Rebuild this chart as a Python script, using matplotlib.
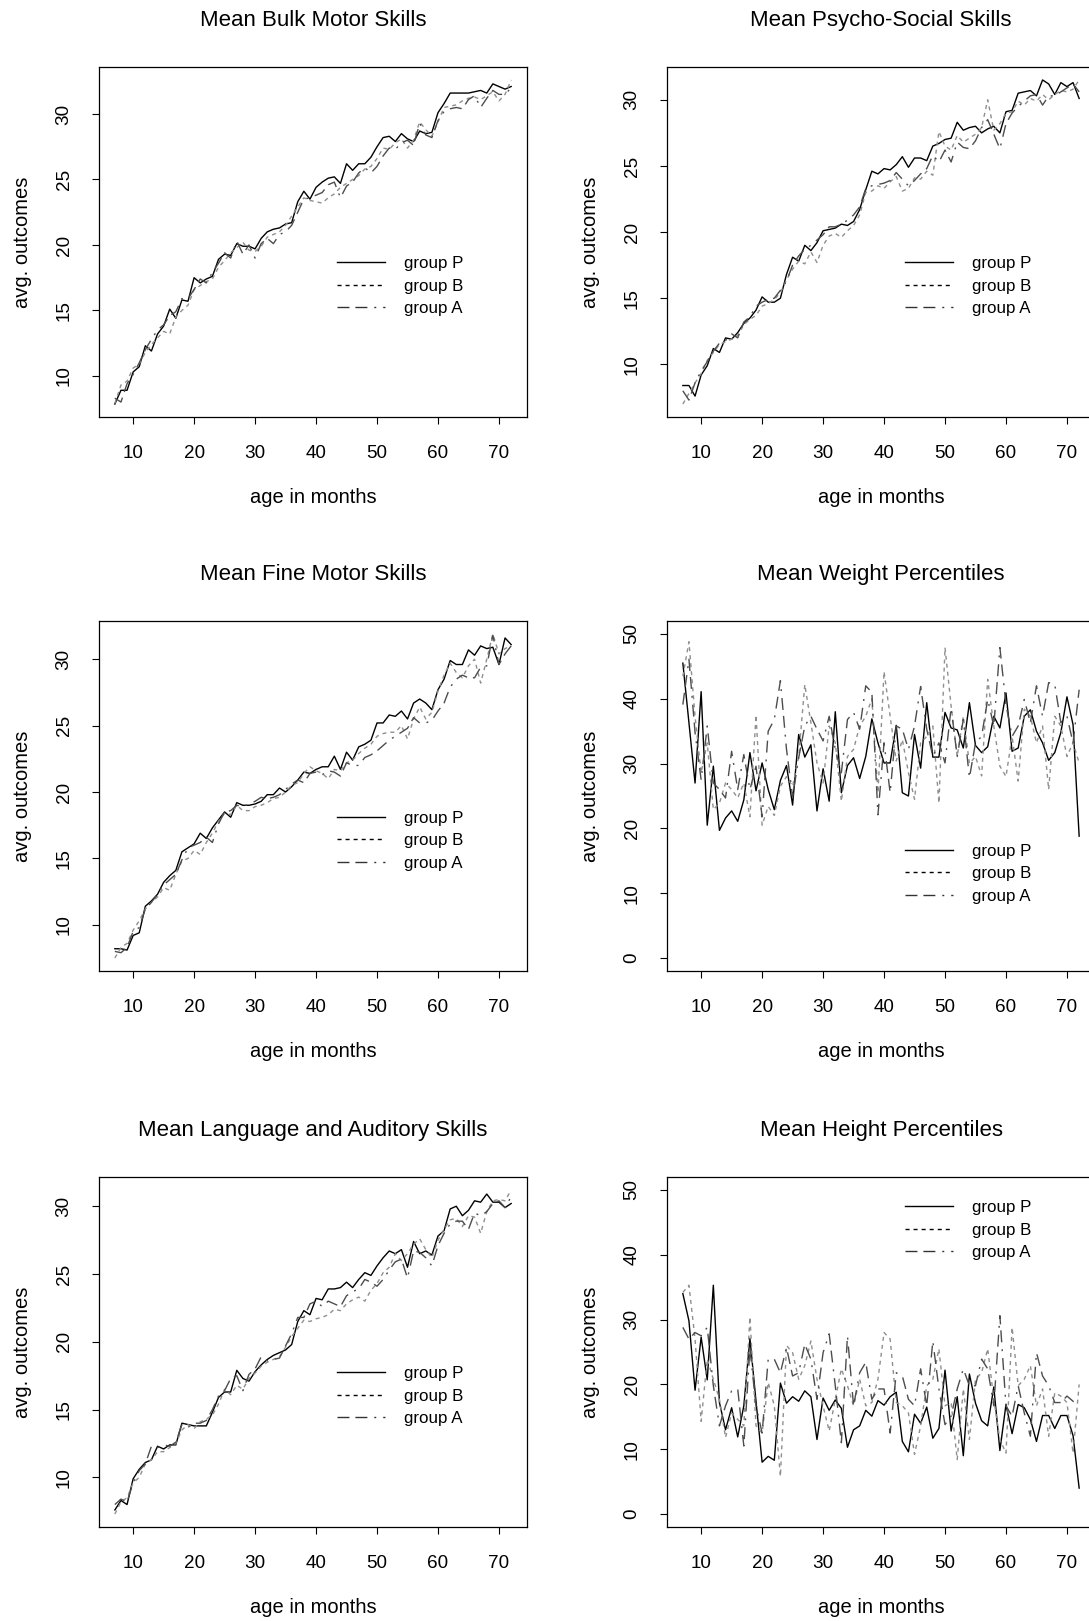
import matplotlib
matplotlib.use("Agg")
import matplotlib.pyplot as plt
import numpy as np

plt.rcParams['font.family'] = ['Liberation Sans', 'DejaVu Sans']
plt.rcParams['lines.scale_dashes'] = False

months = np.arange(7, 73)
group_names = ["group P", "group B", "group A"]

bulk_P = [7.85, 8.9, 8.9, 10.3, 10.7, 12.3, 11.9, 13.2, 13.8, 15.1, 14.4, 15.8, 15.7, 17.5, 17.1, 17.4, 17.6, 18.9, 19.3, 19.2,
          20.1, 19.9, 19.9, 19.7, 20.5, 21.0, 21.2, 21.3, 21.6, 21.7, 23.3, 24.1, 23.5, 24.4, 24.8, 25.1, 25.2, 24.7, 26.2, 25.7,
          26.2, 26.2, 26.7, 27.5, 28.2, 28.3, 27.9, 28.5, 28.1, 27.9, 28.7, 28.5, 28.6, 30.1, 30.8, 31.6, 31.6, 31.6, 31.6, 31.7,
          31.8, 31.6, 32.3, 32.1, 31.9, 32.1]
bulk_B = [7.9, 9.3, 9.6, 10.6, 10.9, 11.8, 12.4, 12.9, 13.4, 13.2, 14.5, 15.0, 15.4, 16.6, 16.9, 17.2, 17.4, 18.3, 18.8, 19.4,
          19.8, 20.2, 19.6, 19.5, 19.9, 20.6, 20.8, 21.0, 21.5, 22.2, 22.9, 23.6, 23.4, 23.3, 23.2, 23.6, 23.9, 24.4, 24.7, 25.0,
          25.3, 25.8, 26.0, 26.6, 27.4, 27.3, 27.8, 28.1, 27.4, 28.0, 29.4, 28.8, 28.3, 29.4, 30.5, 30.6, 30.7, 31.0, 31.2, 31.3,
          31.1, 31.4, 31.7, 31.0, 31.5, 32.6]
bulk_A = [8.3, 8.0, 9.4, 10.1, 11.0, 12.0, 12.8, 13.5, 13.9, 14.6, 14.9, 15.9, 15.9, 16.6, 17.4, 17.1, 17.9, 18.6, 19.4, 19.0,
          20.3, 19.3, 20.0, 19.0, 20.1, 20.5, 20.1, 20.8, 21.0, 21.5, 22.5, 23.5, 23.6, 23.8, 24.0, 24.6, 24.8, 23.6, 24.5, 24.8,
          25.5, 25.9, 25.5, 26.0, 26.8, 27.4, 27.3, 27.8, 28.0, 27.6, 29.3, 28.4, 28.2, 29.5, 30.2, 30.4, 30.5, 30.4, 31.1, 31.4,
          30.5, 31.2, 31.8, 31.5, 31.5, 32.0]

psycho_P = [8.4, 8.4, 7.6, 9.2, 9.9, 11.2, 10.9, 12.0, 11.9, 12.4, 13.1, 13.5, 14.1, 15.1, 14.7, 14.7, 15.0, 16.8, 18.1, 17.8,
            19.0, 18.6, 19.2, 20.1, 20.2, 20.3, 20.6, 20.5, 20.8, 21.7, 23.2, 24.6, 24.4, 24.8, 24.7, 25.1, 25.7, 24.9, 25.6, 25.6,
            25.4, 26.5, 26.7, 27.0, 27.1, 28.3, 27.7, 27.9, 28.0, 27.5, 27.8, 28.0, 27.5, 29.1, 29.2, 30.5, 30.6, 30.7, 30.3, 31.5,
            31.2, 30.4, 31.3, 31.0, 31.3, 30.1]
psycho_B = [7.0, 7.8, 8.6, 9.3, 10.3, 10.9, 11.5, 11.7, 11.9, 12.2, 13.0, 13.4, 13.7, 14.4, 14.6, 14.9, 15.4, 16.4, 17.2, 17.8,
            17.6, 18.5, 17.7, 19.0, 19.7, 19.9, 19.6, 20.1, 20.5, 21.3, 23.0, 23.1, 23.5, 23.3, 23.8, 24.2, 23.1, 23.3, 24.1, 24.0,
            24.6, 24.3, 27.6, 26.5, 26.2, 27.3, 26.8, 27.1, 27.4, 27.9, 30.0, 27.7, 28.2, 29.0, 29.1, 29.9, 29.6, 30.1, 29.9, 30.4,
            30.0, 30.4, 30.7, 30.6, 30.8, 31.5]
psycho_A = [8.0, 7.3, 8.6, 9.5, 10.2, 11.0, 11.6, 11.8, 12.3, 12.0, 13.2, 13.6, 14.4, 14.7, 14.9, 15.0, 15.6, 16.3, 17.5, 18.2,
            18.7, 19.0, 19.4, 19.8, 20.4, 20.4, 20.6, 20.9, 21.3, 21.9, 23.3, 23.5, 23.6, 23.7, 23.9, 24.5, 24.0, 23.5, 23.9, 24.4,
            24.8, 25.8, 25.3, 26.2, 25.3, 26.8, 26.4, 26.3, 26.9, 27.9, 28.5, 27.4, 26.3, 28.2, 29.0, 29.5, 29.9, 30.3, 30.4, 29.6,
            30.3, 30.3, 30.6, 30.9, 31.2, 30.6]

fine_P = [8.2, 8.2, 8.1, 9.2, 9.4, 11.4, 11.8, 12.3, 13.2, 13.7, 14.1, 15.5, 15.8, 16.1, 16.9, 16.5, 17.3, 17.9, 18.5, 18.1,
          19.2, 19.0, 19.0, 19.1, 19.3, 19.8, 19.8, 20.3, 20.0, 20.4, 20.9, 21.5, 21.4, 21.7, 21.9, 21.9, 22.7, 21.7, 23.0, 22.4,
          23.4, 23.6, 23.9, 25.2, 25.2, 25.8, 25.7, 26.1, 25.5, 26.7, 27.0, 26.7, 26.2, 27.7, 28.5, 29.9, 29.6, 29.6, 30.7, 30.3,
          31.0, 30.8, 30.9, 29.6, 31.6, 31.1]
fine_B = [7.5, 8.3, 8.6, 9.6, 10.3, 11.2, 11.7, 12.1, 12.8, 12.6, 13.8, 14.8, 15.0, 15.6, 15.3, 16.2, 16.9, 17.8, 18.4, 18.3,
          19.0, 18.6, 18.6, 18.9, 19.0, 19.2, 19.5, 19.6, 20.0, 20.5, 20.7, 21.4, 21.9, 21.6, 21.4, 21.0, 21.7, 21.6, 22.2, 22.4,
          22.9, 23.3, 23.6, 24.2, 24.4, 24.5, 24.5, 25.0, 24.0, 25.5, 26.4, 25.5, 26.0, 27.6, 28.8, 29.7, 29.0, 28.6, 29.5, 30.0,
          28.2, 30.0, 31.9, 30.4, 30.8, 31.0]
fine_A = [8.0, 7.9, 8.3, 9.5, 9.8, 11.2, 11.7, 12.3, 13.0, 13.4, 13.8, 14.9, 15.8, 16.0, 16.2, 16.6, 16.2, 17.6, 18.5, 18.6,
          19.0, 18.9, 19.1, 19.3, 19.6, 19.5, 19.6, 19.8, 20.2, 20.6, 20.9, 20.7, 21.4, 21.5, 21.3, 21.6, 21.5, 21.2, 22.2, 22.0,
          22.0, 22.6, 22.8, 23.1, 23.5, 23.9, 24.2, 24.5, 24.8, 25.6, 25.2, 25.2, 25.4, 26.1, 26.7, 27.9, 28.5, 28.8, 28.6, 28.6,
          29.4, 29.5, 31.8, 29.6, 30.4, 31.0]

weight_P = [45.5, 36.3, 27.0, 41.1, 20.5, 29.6, 19.7, 21.6, 22.7, 21.1, 24.4, 31.7, 25.8, 30.1, 26.0, 22.9, 27.4, 29.7, 23.6, 34.5,
            31.0, 32.9, 22.7, 29.2, 24.2, 38.0, 25.5, 29.7, 30.9, 27.7, 31.1, 36.9, 33.2, 30.1, 30.1, 35.9, 25.5, 25.0, 34.5, 29.3,
            39.4, 31.0, 31.0, 37.9, 35.5, 35.2, 32.4, 39.4, 32.8, 31.7, 32.6, 37.3, 35.5, 40.9, 31.9, 32.4, 37.3, 38.3, 35.0, 33.2,
            30.5, 31.7, 34.8, 40.3, 36.0, 18.8]
weight_B = [43.5, 48.8, 37.3, 28.6, 33.2, 22.9, 23.9, 27.0, 26.0, 24.7, 27.0, 21.8, 37.5, 20.5, 23.4, 22.0, 26.5, 28.0, 26.5, 31.1,
            42.2, 36.3, 30.1, 27.0, 35.8, 33.2, 24.2, 31.1, 32.2, 35.8, 37.3, 40.0, 25.5, 44.2, 37.3, 30.4, 33.7, 28.6, 24.5, 33.2,
            34.2, 35.8, 23.9, 47.9, 38.9, 31.1, 37.3, 30.0, 31.1, 28.1, 43.0, 35.8, 29.6, 28.0, 34.2, 27.3, 38.4, 37.3, 33.2, 35.8,
            26.0, 37.3, 35.8, 31.1, 33.2, 30.1]
weight_A = [39.1, 46.1, 34.8, 27.5, 35.8, 27.0, 26.0, 24.7, 31.9, 26.0, 31.4, 26.0, 29.6, 21.8, 35.0, 36.8, 42.8, 32.2, 24.9, 30.9,
            35.8, 37.3, 35.3, 33.5, 37.3, 32.2, 28.6, 36.8, 37.9, 35.3, 42.0, 41.0, 22.1, 33.2, 25.5, 35.8, 35.3, 32.2, 35.8, 41.9,
            35.3, 31.1, 33.2, 30.1, 38.6, 31.1, 36.8, 27.8, 33.2, 34.2, 39.9, 35.8, 47.9, 39.1, 34.2, 35.8, 39.9, 36.3, 42.0, 37.3,
            42.5, 42.2, 36.3, 37.3, 33.2, 41.4]

lang_P = [7.6, 8.3, 8.0, 9.9, 10.6, 11.1, 11.3, 12.3, 12.1, 12.4, 12.4, 14.0, 13.9, 13.8, 13.8, 13.8, 14.8, 15.9, 16.3, 16.3,
          17.9, 17.3, 17.1, 17.8, 18.3, 18.7, 19.0, 19.2, 19.4, 19.8, 21.5, 22.3, 22.0, 23.2, 23.1, 23.9, 23.9, 24.0, 24.4, 24.0,
          24.6, 25.1, 24.9, 25.6, 26.2, 26.7, 26.5, 26.8, 25.5, 27.4, 26.5, 26.7, 26.4, 27.8, 28.2, 29.8, 30.0, 29.3, 29.7, 30.4,
          30.3, 30.9, 30.3, 30.3, 29.9, 30.2]
lang_B = [7.3, 8.2, 8.5, 9.6, 10.0, 11.0, 11.3, 11.9, 11.9, 12.2, 12.5, 13.5, 13.9, 13.6, 14.1, 14.3, 14.6, 15.4, 16.5, 16.1,
          16.8, 16.5, 17.3, 17.7, 18.2, 18.5, 18.7, 18.9, 19.6, 20.4, 21.0, 21.6, 21.5, 21.7, 21.8, 22.0, 22.4, 22.3, 22.8, 23.1,
          23.3, 23.0, 23.8, 24.3, 25.1, 25.5, 26.5, 26.0, 26.5, 27.2, 27.6, 26.8, 26.2, 27.5, 28.3, 29.0, 29.1, 28.5, 29.3, 29.2,
          28.0, 29.6, 30.4, 30.5, 30.4, 31.2]
lang_A = [8.0, 8.4, 8.2, 9.6, 10.5, 11.0, 12.3, 12.2, 12.4, 12.3, 12.6, 13.9, 13.7, 14.0, 14.0, 14.2, 15.0, 16.0, 16.4, 17.3,
          17.5, 16.4, 17.6, 18.0, 18.9, 18.6, 18.7, 18.8, 19.7, 20.6, 21.8, 21.8, 22.8, 23.0, 22.6, 23.0, 22.8, 22.6, 23.4, 23.7,
          23.9, 24.6, 24.4, 24.1, 24.6, 25.3, 25.9, 26.1, 24.7, 26.7, 26.6, 26.2, 25.6, 27.1, 28.0, 28.7, 28.9, 28.9, 28.3, 29.5,
          29.3, 29.6, 30.2, 30.4, 29.9, 30.7]

height_P = [34.0, 29.8, 19.1, 27.3, 20.7, 35.3, 17.2, 13.0, 16.4, 11.9, 16.7, 27.1, 17.4, 8.0, 8.9, 8.3, 20.2, 17.1, 18.1, 17.4,
            19.0, 18.1, 11.5, 17.9, 16.0, 17.6, 16.3, 10.3, 13.0, 13.6, 16.0, 15.1, 17.5, 16.8, 18.1, 18.8, 11.2, 9.6, 15.4, 14.0,
            16.5, 11.7, 13.2, 22.2, 12.8, 18.1, 9.0, 21.6, 17.1, 14.4, 13.6, 19.6, 9.8, 16.9, 12.4, 16.9, 16.4, 14.6, 11.2, 15.2,
            15.2, 13.2, 15.2, 15.2, 12.1, 4.0]
height_B = [34.2, 35.3, 27.0, 14.3, 23.9, 20.8, 17.7, 11.8, 15.6, 14.6, 13.6, 30.4, 13.6, 12.5, 20.3, 16.7, 5.8, 26.0, 24.9, 20.8,
            22.9, 26.7, 20.8, 16.7, 12.8, 17.7, 22.4, 19.8, 16.7, 20.8, 16.7, 17.2, 20.8, 28.0, 27.0, 17.2, 16.7, 15.6, 9.2, 13.6,
            19.8, 20.8, 25.5, 16.7, 17.2, 8.4, 19.3, 11.5, 20.8, 21.8, 25.5, 17.7, 11.5, 9.4, 28.8, 19.8, 20.8, 22.9, 16.7, 19.3,
            12.0, 18.7, 18.2, 17.2, 9.4, 20.0]
height_A = [28.8, 27.0, 28.0, 27.5, 28.8, 19.8, 13.6, 16.7, 19.0, 19.3, 10.5, 25.5, 16.7, 12.5, 23.9, 23.9, 21.8, 25.7, 21.3, 21.8,
            26.2, 23.9, 17.7, 24.9, 27.8, 19.8, 11.0, 27.5, 16.7, 21.8, 23.4, 17.7, 19.3, 19.3, 12.5, 21.8, 21.3, 17.7, 16.7, 22.4,
            16.7, 26.7, 19.3, 13.8, 15.1, 19.3, 22.4, 19.8, 19.8, 23.9, 22.4, 16.7, 30.6, 16.7, 15.1, 19.8, 15.6, 12.0, 24.9, 21.3,
            19.8, 17.2, 17.2, 18.2, 17.4, 16.7]

titles = ["Mean Bulk Motor Skills", "Mean Psycho-Social Skills",
          "Mean Fine Motor Skills", "Mean Weight Percentiles",
          "Mean Language and Auditory Skills", "Mean Height Percentiles"]
series = [(bulk_P, bulk_B, bulk_A), (psycho_P, psycho_B, psycho_A),
          (fine_P, fine_B, fine_A), (weight_P, weight_B, weight_A),
          (lang_P, lang_B, lang_A), (height_P, height_B, height_A)]
fixed_ylim = [None, None, None, (0, 50), None, (0, 50)]
skill_ticks = [10, 15, 20, 25, 30]
pct_ticks = [0, 10, 20, 30, 40, 50]
ytick_sets = [skill_ticks, skill_ticks, skill_ticks, pct_ticks, skill_ticks, pct_ticks]
xticks = [10, 20, 30, 40, 50, 60, 70]
# legend middle-row position, axes fraction
legend_y = [0.374, 0.374, 0.372, 0.278, 0.374, 0.848]

W, H = 1089, 1621
fig = plt.figure(figsize=(W / 100, H / 100), dpi=100)

col_left = [99, 667]
row_top = [67, 621, 1177]
box_w, box_h = 428, 350

line_styles = [
    dict(color="black", linestyle="-"),
    dict(color="#8f8f8f", linestyle=(0, (2.9, 2.9))),
    dict(color="#4d4d4d", linestyle=(0, (8.6, 4.3, 8.6, 5.0, 1.4, 5.0))),
]
legend_colors = ["black", "black", "#333333"]

for i in range(6):
    r, c = divmod(i, 2)
    left, top = col_left[c], row_top[r]
    ax = fig.add_axes([left / W, 1 - (top + box_h) / H, box_w / W, box_h / H])
    handles = []
    for vals, st in zip(series[i], line_styles):
        ax.plot(months, vals, lw=1.0, **st)
    for name, st, lc in zip(group_names, line_styles, legend_colors):
        h, = ax.plot([], [], lw=1.0, color=lc, linestyle=st["linestyle"], label=name)
        handles.append(h)

    x0, x1 = months.min(), months.max()
    xpad = 0.04 * (x1 - x0)
    ax.set_xlim(x0 - xpad, x1 + xpad)
    if fixed_ylim[i] is None:
        allv = np.concatenate([np.asarray(s) for s in series[i]])
        y0, y1 = allv.min(), allv.max()
    else:
        y0, y1 = fixed_ylim[i]
    ypad = 0.04 * (y1 - y0)
    ax.set_ylim(y0 - ypad, y1 + ypad)

    ax.set_xticks(xticks)
    ax.set_yticks(ytick_sets[i])
    ax.tick_params(direction="out", length=5, width=0.8, labelsize=13.6)
    ax.tick_params(axis="x", pad=15)
    ax.tick_params(axis="y", pad=14)
    for lab in ax.get_yticklabels():
        lab.set_rotation(90)
        lab.set_va("center")
    for sp in ax.spines.values():
        sp.set_linewidth(0.9)

    ax.set_title(titles[i], fontsize=16, pad=29.5)
    ax.set_xlabel("age in months", fontsize=14.5, labelpad=19)
    ax.set_ylabel("avg. outcomes", fontsize=14.5, labelpad=17)

    ax.legend(handles=handles, loc="center left", bbox_to_anchor=(0.557, legend_y[i]),
              frameon=False, fontsize=12.2, handlelength=2.78, handletextpad=1.18,
              labelspacing=0.44, borderpad=0, borderaxespad=0)

fig.savefig("out.png", dpi=100)
